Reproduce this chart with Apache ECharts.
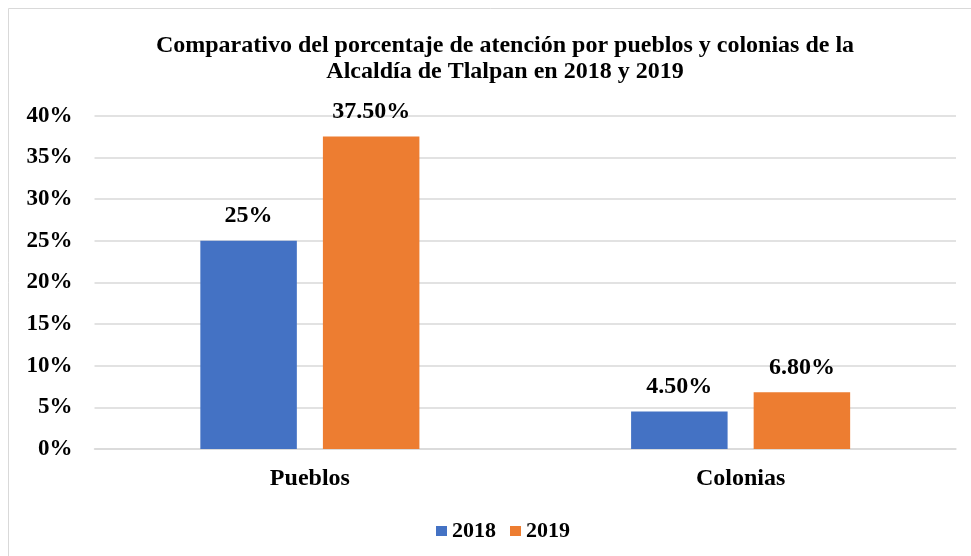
<!DOCTYPE html>
<html>
<head>
<meta charset="utf-8">
<script src="https://cdn.jsdelivr.net/npm/echarts@6/dist/echarts.min.js"></script>
<style>
html,body{margin:0;padding:0;background:#fff;}
#chart{width:971px;height:556px;}
</style>
</head>
<body>
<div id="chart"></div>
<script>
const categories = ['Pueblos', 'Colonias'];
const seriesNames = ['2018', '2019'];
const values2018 = [25, 4.5];
const values2019 = [37.5, 6.8];
const labels2018 = ['25%', '4.50%'];
const labels2019 = ['37.50%', '6.80%'];
const yTicks = [0, 5, 10, 15, 20, 25, 30, 35, 40];

const FONT = "'Liberation Serif', 'Times New Roman', serif";
const chart = echarts.init(document.getElementById('chart'));

function labelCfg(labels) {
  return {
    show: true,
    position: 'top',
    distance: 13,
    formatter: p => labels[p.dataIndex],
    fontFamily: FONT,
    fontWeight: 'bold',
    fontSize: 24,
    lineHeight: 24,
    color: '#000'
  };
}

chart.setOption({
  animation: false,
  backgroundColor: '#fff',
  graphic: [{
    type: 'rect',
    shape: { x: 8.5, y: 8.5, width: 980, height: 580 },
    style: { fill: 'none', stroke: '#d9d9d9', lineWidth: 1 },
    silent: true
  }],
  title: {
    text: 'Comparativo del porcentaje de atención por pueblos y colonias de la\nAlcaldía de Tlalpan en 2018 y 2019',
    left: 500,
    textAlign: 'center',
    top: 28,
    textStyle: {
      fontFamily: FONT,
      fontWeight: 'bold',
      fontSize: 24,
      lineHeight: 26,
      color: '#000'
    }
  },
  legend: {
    data: seriesNames,
    top: 515,
    left: 431,
    itemWidth: 11,
    itemHeight: 10,
    itemGap: 14,
    icon: 'rect',
    textStyle: { fontFamily: FONT, fontWeight: 'bold', fontSize: 22, color: '#000' }
  },
  grid: { left: 94.5, right: 15, top: 115.7, bottom: 107, containLabel: false },
  xAxis: {
    type: 'category',
    data: categories,
    axisTick: { show: false },
    axisLine: { show: true, lineStyle: { color: '#d9d9d9', width: 1.5 } },
    axisLabel: {
      margin: 18,
      fontFamily: FONT,
      fontWeight: 'bold',
      fontSize: 24,
      color: '#000'
    }
  },
  yAxis: {
    type: 'value',
    min: yTicks[0],
    max: yTicks[yTicks.length - 1],
    interval: 5,
    axisLine: { show: false },
    axisTick: { show: false },
    splitLine: { lineStyle: { color: '#d9d9d9', width: 1.5 } },
    axisLabel: {
      margin: 22,
      formatter: v => v + '%',
      fontFamily: FONT,
      fontWeight: 'bold',
      fontSize: 23,
      color: '#000'
    }
  },
  series: [
    {
      name: seriesNames[0],
      type: 'bar',
      data: values2018,
      barWidth: 96.5,
      barGap: '27%',
      itemStyle: { color: '#4472C4' },
      label: labelCfg(labels2018)
    },
    {
      name: seriesNames[1],
      type: 'bar',
      data: values2019,
      barWidth: 96.5,
      barGap: '27%',
      itemStyle: { color: '#ED7D31' },
      label: labelCfg(labels2019)
    }
  ]
});
</script>
</body>
</html>
